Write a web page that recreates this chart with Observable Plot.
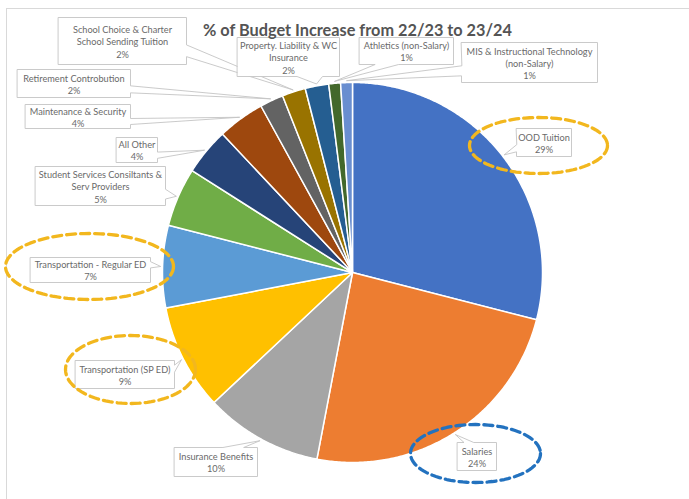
<!DOCTYPE html>
<html><head><meta charset="utf-8">
<script src="https://cdn.jsdelivr.net/npm/d3@7"></script>
<script src="https://cdn.jsdelivr.net/npm/@observablehq/plot@0.6"></script>
<style>
body{margin:0;background:#fff;}
#wrap{position:relative;width:689px;height:499px;overflow:hidden;background:#fff;}
#frame{position:absolute;left:6px;top:8px;width:720px;height:540px;border:1px solid #d9d9d9;}
#chart{position:absolute;left:0;top:0;}
</style></head><body><div id="wrap"><div id="frame"></div><div id="chart"></div></div>
<script>
// ---- data ----
const title = "% of Budget Increase from 22/23 to 23/24";
const categories = [
  "OOD Tuition",
  "Salaries",
  "Insurance Benefits",
  "Transportation (SP ED)",
  "Transportation - Regular ED",
  "Student Services Consiltants & Serv Providers",
  "All Other",
  "Maintenance & Security",
  "Retirement Controbution",
  "School Choice & Charter School Sending Tuition",
  "Property. Liability & WC Insurance",
  "Athletics (non-Salary)",
  "MIS & Instructional Technology (non-Salary)"
];
const percents = [29, 24, 10, 9, 7, 5, 4, 4, 2, 2, 2, 1, 1];
const labelLines = [
  ["OOD Tuition"],
  ["Salaries"],
  ["Insurance Benefits"],
  ["Transportation (SP ED)"],
  ["Transportation - Regular ED"],
  ["Student Services Consiltants &", "Serv Providers"],
  ["All Other"],
  ["Maintenance & Security"],
  ["Retirement Controbution"],
  ["School Choice & Charter", "School Sending Tuition"],
  ["Property. Liability & WC", "Insurance"],
  ["Athletics (non-Salary)"],
  ["MIS & Instructional Technology", "(non-Salary)"]
];
const highlighted = ["OOD Tuition", "Transportation - Regular ED", "Transportation (SP ED)"];
const emphasised = ["Salaries"];

// ---- styles / layout ----
const colors = ["#4472C4","#ED7D31","#A5A5A5","#FFC000","#5B9BD5","#70AD47","#264478","#9E480E","#636363","#997300","#255E91","#43682B","#698ED0"];
const W = 689, H = 499, CX = 352, CY = 272, R = 190;
// label boxes in pixels [x0, y0, x1, y1]
const boxLayout = {
  "OOD Tuition": [516,128,571,156],
  "Salaries": [457,442,496,470],
  "Insurance Benefits": [174,447,257,476],
  "Transportation (SP ED)": [75,360,174,388],
  "Transportation - Regular ED": [30,257,150,282],
  "Student Services Consiltants & Serv Providers": [35,166,165,205],
  "All Other": [116,137,157,162],
  "Maintenance & Security": [25,104,130,128],
  "Retirement Controbution": [17,69,130,97],
  "School Choice & Charter School Sending Tuition": [58,17,186,64],
  "Property. Liability & WC Insurance": [237,37,339,76],
  "Athletics (non-Salary)": [359,37,453,64],
  "MIS & Instructional Technology (non-Salary)": [461,42,597,82]
};
// highlight ellipses in pixels [cx, cy, rx, ry]
const ellipseLayout = {
  "OOD Tuition": [538,145,69,28],
  "Transportation - Regular ED": [89,266,84,33],
  "Transportation (SP ED)": [130,369,65,34],
  "Salaries": [475,453,65,29]
};

const ux = px => (px - CX) / R;
const uy = py => (CY - py) / R;

const data = categories.map((name, i) => ({name, value: percents[i], lines: labelLines[i]}));
const arcs = d3.pie().sort(null).value(d => d.value)(data);

// slice polygons in unit-circle coordinates
const slicePts = arcs.flatMap(a => {
  const pts = [{name: a.data.name, x: 0, y: 0}];
  const n = Math.max(3, Math.ceil((a.endAngle - a.startAngle) / (Math.PI / 360)));
  for (let i = 0; i <= n; i++) {
    const t = a.startAngle + (a.endAngle - a.startAngle) * i / n;
    pts.push({name: a.data.name, x: Math.sin(t), y: Math.cos(t)});
  }
  return pts;
});

// Excel-like wedge callouts (geometry in pixels, converted to units)
function callout(name, box, tip) {
  const [l, t, r, b] = box;
  const w = r - l, h = b - t, hc = (l + r) / 2, vc = (t + b) / 2;
  const dx = tip[0] - hc, dy = tip[1] - vc;
  const dz = Math.abs(dy) - Math.abs(dx * h / w);
  const x1 = l + w * (dx > 0 ? 7 : 2) / 12, x2 = l + w * (dx > 0 ? 10 : 5) / 12;
  const y1 = t + h * (dy > 0 ? 7 : 2) / 12, y2 = t + h * (dy > 0 ? 10 : 5) / 12;
  let p;
  if (dz > 0) {
    p = dy < 0
      ? [[l,t],[x1,t],tip,[x2,t],[r,t],[r,b],[l,b]]
      : [[l,t],[r,t],[r,b],[x2,b],tip,[x1,b],[l,b]];
  } else {
    p = dx > 0
      ? [[l,t],[r,t],[r,y1],tip,[r,y2],[r,b],[l,b]]
      : [[l,t],[r,t],[r,b],[l,b],[l,y2],tip,[l,y1]];
  }
  return p.map(([px, py]) => ({name, x: ux(px), y: uy(py)}));
}
const calloutPts = arcs.flatMap(a => {
  const m = (a.startAngle + a.endAngle) / 2, k = 1.01;
  const tip = [CX + R * k * Math.sin(m), CY - R * k * Math.cos(m)];
  return callout(a.data.name, boxLayout[a.data.name], tip);
});
const labelData = arcs.map(a => {
  const [l, t, r, b] = boxLayout[a.data.name];
  return {x: ux((l + r) / 2), y: uy((t + b) / 2 + 0.5), text: [...a.data.lines, a.data.value + "%"].join("\n")};
});

function ellipsePts(names) {
  return names.flatMap(name => {
    const [ex, ey, rx, ry] = ellipseLayout[name];
    return d3.range(96).map(i => {
      const t = 2 * Math.PI * i / 96;
      return {name, x: ux(ex + rx * Math.cos(t)), y: uy(ey + ry * Math.sin(t))};
    });
  });
}

const chart = Plot.plot({
  width: W, height: H,
  margin: 0,
  x: {domain: [ux(0), ux(W)], axis: null},
  y: {domain: [uy(H), uy(0)], axis: null},
  color: {type: "ordinal", domain: categories, range: colors},
  style: {background: "transparent"},
  marks: [
    Plot.line(slicePts, {x: "x", y: "y", z: "name", fill: "name", stroke: "white", strokeWidth: 1.5, curve: "linear-closed"}),
    Plot.line(calloutPts, {x: "x", y: "y", z: "name", fill: "white", stroke: "#c4c4c4", strokeWidth: 0.9, curve: "linear-closed"}),
    Plot.text(labelData, {x: "x", y: "y", text: "text", fontSize: 9.2, lineHeight: 1.32, fill: "#6a6a6a", fontFamily: "Lato, 'Open Sans', sans-serif"}),
    Plot.line(ellipsePts(highlighted), {x: "x", y: "y", z: "name", stroke: "#F2B71E", strokeWidth: 3.3, strokeDasharray: "9,5", curve: "linear-closed"}),
    Plot.line(ellipsePts(emphasised), {x: "x", y: "y", z: "name", stroke: "#2372BF", strokeWidth: 3.3, strokeDasharray: "9,5", curve: "linear-closed"}),
    Plot.text([title], {x: ux(357), y: uy(30), text: d => d, fontSize: 16.3, fontWeight: "bold", fill: "#545454", fontFamily: "Lato, 'Open Sans', sans-serif"})
  ]
});
document.getElementById("chart").append(chart);
</script></body></html>
